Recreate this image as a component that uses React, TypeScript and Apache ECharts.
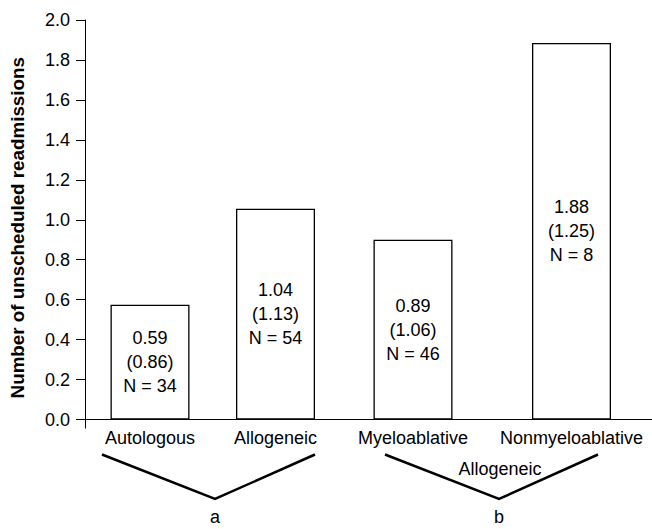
import React, { useEffect, useRef } from "react";
import * as echarts from "echarts";

const categories = ["Autologous", "Allogeneic", "Myeloablative", "Nonmyeloablative"];
const xPositions = [65, 190.5, 328, 486.5];
const barHeights = [0.575, 1.055, 0.9, 1.885];
const meanLabels = ["0.59", "1.04", "0.89", "1.88"];
const sdLabels = ["0.86", "1.13", "1.06", "1.25"];
const nValues = [34, 54, 46, 8];
const groupLetters = ["a", "b"];
const groupSubLabel = "Allogeneic";
const yAxisTitle = "Number of unscheduled readmissions";

const FF = "'Liberation Sans', Arial, Helvetica, sans-serif";
const FS = 18;

export default function App() {
  const ref = useRef<HTMLDivElement>(null);
  useEffect(() => {
    if (!ref.current) return;
    const chart = echarts.init(ref.current, undefined, { renderer: "svg" });
    const lineStyle = { stroke: "#000", lineWidth: 2.5 };
    const txt = { fontSize: FS, fontFamily: FF, fill: "#000", align: "center", verticalAlign: "middle" };
    chart.setOption({
      animation: false,
      backgroundColor: "#fff",
      grid: { left: 85, right: 0, top: 20, bottom: 109.5 },
      xAxis: {
        type: "value",
        min: 0,
        max: 567,
        splitLine: { show: false },
        axisLine: { show: true, lineStyle: { color: "#000", width: 1 } },
        axisTick: { show: true, customValues: [0], length: 9, lineStyle: { color: "#000" } },
        axisLabel: {
          show: true,
          customValues: xPositions,
          formatter: (v: number) => {
            const i = xPositions.indexOf(v);
            return i >= 0 ? categories[i] : "";
          },
          color: "#000",
          fontSize: FS,
          fontFamily: FF,
          margin: 9,
        },
      },
      yAxis: {
        type: "value",
        min: 0,
        max: 2,
        interval: 0.2,
        name: yAxisTitle,
        nameLocation: "middle",
        nameGap: 58,
        nameTextStyle: { fontSize: 18.8, fontWeight: "bold", color: "#000", fontFamily: FF, padding: [0, 16, 0, 0] },
        splitLine: { show: false },
        axisLine: { show: true, lineStyle: { color: "#000", width: 1 } },
        axisTick: { show: true, length: 9, lineStyle: { color: "#000" } },
        axisLabel: {
          color: "#000",
          fontSize: FS,
          fontFamily: FF,
          margin: 15,
          formatter: (v: number) => v.toFixed(1),
        },
      },
      series: [
        {
          type: "bar",
          data: xPositions.map((x, i) => [x, barHeights[i]]),
          barWidth: 79,
          itemStyle: { color: "#fff", borderColor: "#000", borderWidth: 1.3 },
          label: {
            show: true,
            position: "inside",
            color: "#000",
            fontSize: FS,
            lineHeight: 24,
            fontFamily: FF,
            formatter: (p: any) => {
              const i = p.dataIndex;
              return `${meanLabels[i]}\n(${sdLabels[i]})\nN = ${nValues[i]}`;
            },
          },
        },
      ],
      graphic: [
        { type: "polyline", shape: { points: [[102, 454.5], [215, 499], [315, 454.5]] }, style: { ...lineStyle, fill: null } },
        { type: "polyline", shape: { points: [[385, 454.5], [499, 499], [598, 454.5]] }, style: { ...lineStyle, fill: null } },
        { type: "text", x: 215, y: 517, style: { ...txt, text: groupLetters[0] } },
        { type: "text", x: 499, y: 517, style: { ...txt, text: groupLetters[1] } },
        { type: "text", x: 500, y: 469, style: { ...txt, text: groupSubLabel } },
      ],
    });
    return () => chart.dispose();
  }, []);
  return <div ref={ref} style={{ position: "fixed", left: 0, top: 0, width: 652, height: 529 }} />;
}
